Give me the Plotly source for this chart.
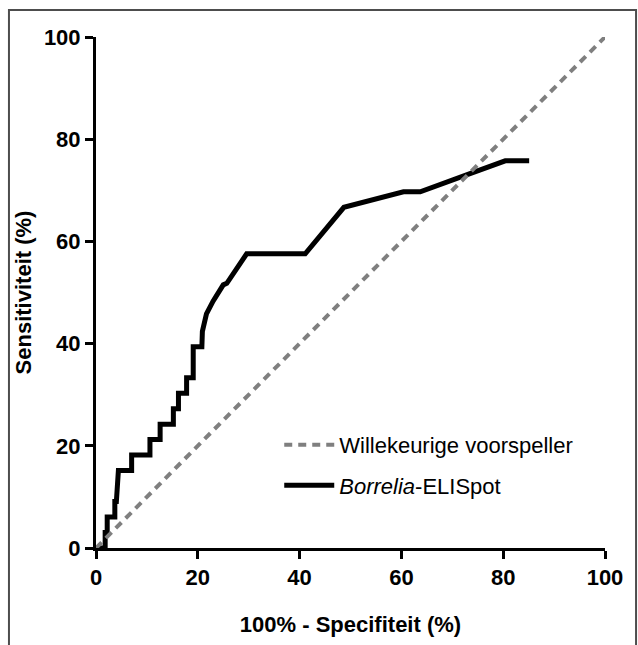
import plotly.graph_objects as go

# ROC curve for Borrelia-ELISpot (100% - specificity vs sensitivity, %)
fpr = [0, 1.8, 1.8, 2.2, 2.2, 3.7, 3.7, 4.0, 4.4, 7.0, 7.0, 10.6, 10.6, 12.6, 12.6,
       15.2, 15.2, 16.2, 16.2, 17.8, 17.8, 19.1, 19.1, 20.8, 20.9, 21.7, 23.0, 25.0,
       25.7, 29.6, 41.1, 48.4, 48.7, 60.4, 63.7, 72.8, 80.4, 85.1]
tpr = [0, 0, 3.03, 3.03, 6.06, 6.06, 9.09, 9.09, 15.15, 15.15, 18.18, 18.18, 21.21,
       21.21, 24.24, 24.24, 27.27, 27.27, 30.30, 30.30, 33.33, 33.33, 39.39, 39.39,
       42.4, 45.8, 48.3, 51.5, 51.8, 57.58, 57.58, 66.67, 66.67, 69.70, 69.70, 73.0,
       75.76, 75.76]

# reference line (random predictor)
diag_x = [0, 100]
diag_y = [0, 100]

x_ticks = [0, 20, 40, 60, 80, 100]
y_ticks = [0, 20, 40, 60, 80, 100]

FONT = "Liberation Sans, Arial, Helvetica, sans-serif"

fig = go.Figure()
fig.add_trace(go.Scatter(
    x=fpr, y=tpr, mode="lines", name="<i>Borrelia</i>-ELISpot",
    line=dict(color="black", width=5), legendrank=2, legendgroup="b"))
fig.add_trace(go.Scatter(
    x=diag_x, y=diag_y, mode="lines", name="Willekeurige voorspeller",
    line=dict(color="#7f7f7f", width=4, dash="8px,6px"), legendrank=1, legendgroup="a"))

axis_common = dict(
    range=[0, 100], showline=True, linecolor="black", linewidth=3,
    ticks="outside", ticklen=8, tickwidth=3, tickcolor="black",
    showgrid=False, zeroline=False,
    tickfont=dict(family=FONT, size=22, color="black", weight="bold"),
)

fig.update_layout(
    width=638, height=645,
    margin=dict(l=96, r=33, t=37, b=97),
    paper_bgcolor="white", plot_bgcolor="white",
    font=dict(family=FONT, size=22, color="black"),
    xaxis=dict(**axis_common, tickvals=x_ticks,
               title=dict(text="<b>100% - Specifiteit (%)</b>", standoff=28,
                          font=dict(family=FONT, size=22))),
    yaxis=dict(**axis_common, tickvals=y_ticks,
               title=dict(text="<b>Sensitiviteit (%)</b>", standoff=7,
                          font=dict(family=FONT, size=22))),
    legend=dict(x=0.36, y=0.243, xanchor="left", yanchor="top",
                bgcolor="rgba(0,0,0,0)", font=dict(family=FONT, size=22),
                tracegroupgap=9, traceorder="grouped", itemwidth=50),
    showlegend=True,
    shapes=[dict(type="rect", xref="paper", yref="paper",
                 x0=-0.171, x1=1.061, y0=-0.2, y1=1.0528,
                 line=dict(color="#4d4d4d", width=2), layer="below")],
)

fig.write_html("out.html", config={"displayModeBar": False},
               post_script="document.body.style.margin='0';")
